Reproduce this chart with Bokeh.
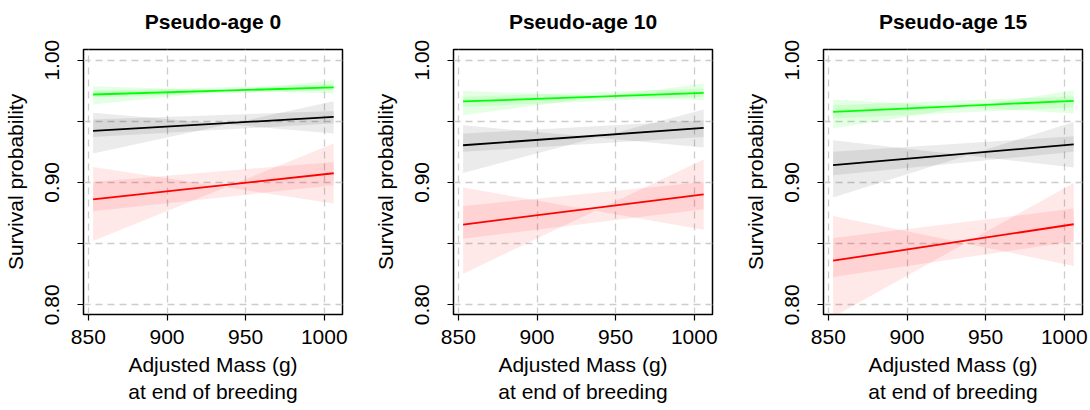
from bokeh.plotting import figure
from bokeh.layouts import row
from bokeh.models import FixedTicker, Range1d, Title
from bokeh.embed import file_html
from bokeh.resources import INLINE

# ---------------- data ----------------
panel_titles = ["Pseudo-age 0", "Pseudo-age 10", "Pseudo-age 15"]
mass_ends = [853, 1006]                       # adjusted mass (g), start / end of each curve
x_ticks = [850, 900, 950, 1000]
y_ticks = [0.80, 0.85, 0.90, 0.95, 1.00]
y_tick_labels = {0.80: "0.80", 0.85: "", 0.90: "0.90", 0.95: "", 1.00: "1.00"}

# fitted survival at the two mass ends, per panel
green_fit = [[0.9719, 0.9777], [0.9662, 0.9733], [0.9577, 0.9667]]
black_fit = [[0.9421, 0.9536], [0.9304, 0.9446], [0.9141, 0.9312]]
red_fit = [[0.8862, 0.9075], [0.8655, 0.8903], [0.8360, 0.8658]]

# slope-uncertainty band: edge with the low slope and edge with the high slope
green_slope_lo = [[0.9787, 0.9727], [0.9749, 0.9673], [0.9678, 0.9564]]
green_slope_hi = [[0.9637, 0.9836], [0.9550, 0.9809], [0.9441, 0.9754]]
black_slope_lo = [[0.9569, 0.9400], [0.9468, 0.9285], [0.9345, 0.9122]]
black_slope_hi = [[0.9236, 0.9664], [0.9078, 0.9596], [0.8876, 0.9495]]
red_slope_lo = [[0.9127, 0.8827], [0.8958, 0.8614], [0.8726, 0.8317]]
red_slope_hi = [[0.8521, 0.9318], [0.8254, 0.9187], [0.7900, 0.8996]]

# intercept-uncertainty band: lower and upper edge
green_int_lo = [[0.9695, 0.9754], [0.9618, 0.9700], [0.9523, 0.9613]]
green_int_hi = [[0.9749, 0.9804], [0.9700, 0.9768], [0.9632, 0.9705]]
black_int_lo = [[0.9372, 0.9482], [0.9250, 0.9372], [0.9059, 0.9250]]
black_int_hi = [[0.9514, 0.9585], [0.9400, 0.9509], [0.9250, 0.9378]]
red_int_lo = [[0.8764, 0.8977], [0.8540, 0.8781], [0.8226, 0.8518]]
red_int_hi = [[0.9004, 0.9168], [0.8807, 0.9004], [0.8546, 0.8786]]

groups = [
    ("#000000", 0.08, black_fit, black_slope_lo, black_slope_hi, black_int_lo, black_int_hi),
    ("#FF0000", 0.09, red_fit, red_slope_lo, red_slope_hi, red_int_lo, red_int_hi),
    ("#00FF00", 0.10, green_fit, green_slope_lo, green_slope_hi, green_int_lo, green_int_hi),
]

FONT = "Liberation Sans"
FS = "21px"

X_LO, X_HI = 846.9, 1011.6
Y_LO, Y_HI = 0.792, 1.0087

borders = [(83, 20), (91, 20), (91, 8)]
frame_w = 259
top_b, bottom_b, frame_h = 49, 96, 265

figs = []
for i, title in enumerate(panel_titles):
    lb, rb = borders[i]
    p = figure(width=lb + frame_w + rb, height=top_b + frame_h + bottom_b,
               x_range=Range1d(X_LO, X_HI), y_range=Range1d(Y_LO, Y_HI),
               output_backend="svg", toolbar_location=None, title=title,
               min_border_left=lb, min_border_right=rb,
               min_border_top=top_b, min_border_bottom=bottom_b)
    p.title.align = "center"
    p.title.text_font = FONT
    p.title.text_font_size = FS
    p.title.text_font_style = "bold"
    p.title.text_color = "black"
    # small empty spacer between the frame and the title lifts the title
    p.add_layout(Title(text=" ", text_font_size="1px", standoff=9), "above")

    p.outline_line_color = "black"
    p.outline_line_width = 1.5
    p.background_fill_color = "white"
    p.border_fill_color = "white"

    for ax in (p.xaxis[0], p.yaxis[0]):
        ax.axis_line_color = None
        ax.major_tick_line_color = "black"
        ax.major_tick_line_width = 1.2
        ax.major_tick_out = 6
        ax.major_tick_in = 0
        ax.minor_tick_line_color = None
        ax.major_label_text_font = FONT
        ax.major_label_text_font_size = FS
        ax.major_label_text_color = "black"
        ax.axis_label_text_font = FONT
        ax.axis_label_text_font_size = FS
        ax.axis_label_text_font_style = "normal"
        ax.axis_label_text_color = "black"

    p.xaxis.ticker = FixedTicker(ticks=x_ticks)
    p.xaxis.major_label_standoff = 9
    p.xaxis.axis_label = "Adjusted Mass (g)\nat end of breeding"
    p.xaxis.axis_label_standoff = 6

    p.yaxis.ticker = FixedTicker(ticks=y_ticks)
    p.yaxis.major_label_overrides = y_tick_labels
    p.yaxis.major_label_orientation = "vertical"
    p.yaxis.major_label_standoff = 18
    p.yaxis.axis_label = "Survival probability"
    p.yaxis.axis_label_standoff = 16

    for g in (p.xgrid[0], p.ygrid[0]):
        g.grid_line_color = "#CCCCCC"
        g.grid_line_dash = "7 5"
        g.grid_line_width = 1.3
    p.xgrid.ticker = FixedTicker(ticks=x_ticks)
    p.ygrid.ticker = FixedTicker(ticks=y_ticks)

    for color, alpha, fit, slo, shi, ilo, ihi in groups:
        p.varea(x=mass_ends, y1=slo[i], y2=shi[i], fill_color=color, fill_alpha=alpha)
        p.varea(x=mass_ends, y1=ilo[i], y2=ihi[i], fill_color=color, fill_alpha=alpha)
    for color, alpha, fit, slo, shi, ilo, ihi in groups:
        p.line(x=mass_ends, y=fit[i], line_color=color, line_width=1.8)
    figs.append(p)

layout = row(*figs, spacing=0)
open("out.html", "w").write(file_html(layout, INLINE))
